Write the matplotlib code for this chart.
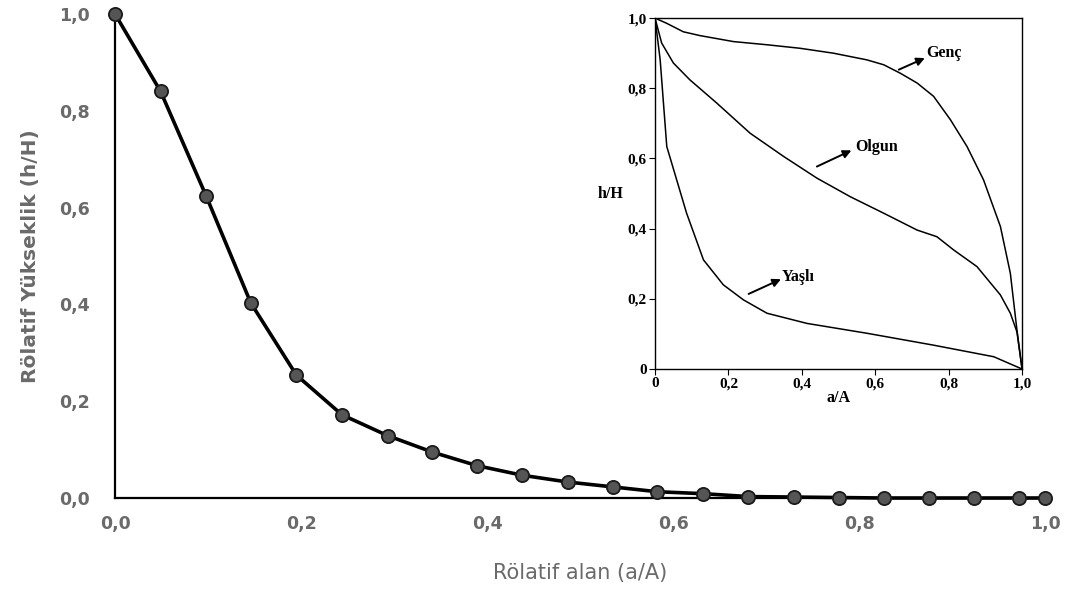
import matplotlib
matplotlib.use("Agg")
import matplotlib.pyplot as plt

# Main chart data
main_x = [0.0, 0.049, 0.098, 0.146, 0.195, 0.244, 0.293, 0.341, 0.389, 0.438, 0.487,
          0.535, 0.583, 0.632, 0.681, 0.730, 0.778, 0.827, 0.875, 0.924, 0.972, 1.0]
main_y = [1.0, 0.84, 0.624, 0.403, 0.254, 0.172, 0.129, 0.095, 0.067, 0.047, 0.033,
          0.023, 0.013, 0.009, 0.003, 0.002, 0.001, 0.0, 0.0, 0.0, 0.0, 0.0]
main_ticks = [0.0, 0.2, 0.4, 0.6, 0.8, 1.0]
main_ticklabels = ["0,0", "0,2", "0,4", "0,6", "0,8", "1,0"]

# Inset data
genc_x = [0.0, 0.032, 0.077, 0.123, 0.214, 0.305, 0.395, 0.486, 0.577, 0.623, 0.668,
          0.714, 0.759, 0.805, 0.85, 0.895, 0.941, 0.968, 0.986, 1.0]
genc_y = [1.0, 0.985, 0.961, 0.95, 0.933, 0.924, 0.914, 0.900, 0.881, 0.867, 0.843,
          0.815, 0.777, 0.710, 0.634, 0.539, 0.406, 0.273, 0.111, 0.0]
olgun_x = [0.0, 0.018, 0.05, 0.095, 0.168, 0.259, 0.35, 0.441, 0.532, 0.623, 0.714,
           0.768, 0.814, 0.877, 0.941, 0.968, 0.986, 1.0]
olgun_y = [1.0, 0.929, 0.872, 0.824, 0.758, 0.672, 0.606, 0.544, 0.491, 0.444, 0.396,
           0.377, 0.339, 0.292, 0.211, 0.159, 0.106, 0.0]
yasli_x = [0.0, 0.014, 0.032, 0.059, 0.086, 0.132, 0.186, 0.241, 0.305, 0.414, 0.577,
           0.759, 0.923, 1.0]
yasli_y = [1.0, 0.881, 0.634, 0.539, 0.444, 0.311, 0.240, 0.197, 0.159, 0.130, 0.102,
           0.068, 0.035, 0.0]
inset_ticks = [0.0, 0.2, 0.4, 0.6, 0.8, 1.0]
inset_ticklabels = ["0", "0,2", "0,4", "0,6", "0,8", "1,0"]
inset_labels = ["Genç", "Olgun", "Yaşlı"]

grey = "#6a6a6a"

fig = plt.figure(figsize=(10.67, 6.03), dpi=100)
ax = fig.add_axes([0.1078, 0.1741, 0.8716, 0.8027])
ax.plot(main_x, main_y, color="black", lw=2.6, marker="o", markersize=9.5,
        markerfacecolor="#555555", markeredgecolor="#1a1a1a", markeredgewidth=1.3,
        clip_on=False, zorder=3)
ax.set_xlim(0, 1.0)
ax.set_ylim(0, 1.0)
for s in ["top", "right"]:
    ax.spines[s].set_visible(False)
for s in ["left", "bottom"]:
    ax.spines[s].set_linewidth(1.6)
ax.set_xticks(main_ticks)
ax.set_xticklabels(main_ticklabels)
ax.set_yticks(main_ticks)
ax.set_yticklabels(main_ticklabels)
ax.tick_params(length=0, labelsize=12.5, labelcolor=grey)
ax.tick_params(axis="x", pad=12)
ax.tick_params(axis="y", pad=18)
for lab in ax.get_xticklabels() + ax.get_yticklabels():
    lab.set_fontweight("bold")
ax.set_xlabel("Rölatif alan (a/A)", fontsize=15, color=grey, labelpad=22)
ax.set_ylabel("Rölatif Yükseklik (h/H)", fontsize=14.5, color=grey,
              fontweight="bold", labelpad=14)

# Inset
ia = fig.add_axes([0.6139, 0.388, 0.344, 0.582])
serif = "Liberation Serif"
ia.plot(genc_x, genc_y, color="black", lw=1.1)
ia.plot(olgun_x, olgun_y, color="black", lw=1.1)
ia.plot(yasli_x, yasli_y, color="black", lw=1.1)
ia.set_xlim(0, 1)
ia.set_ylim(0, 1)
ia.set_xticks(inset_ticks)
ia.set_xticklabels(inset_ticklabels)
ia.set_yticks(inset_ticks)
ia.set_yticklabels(inset_ticklabels)
ia.tick_params(direction="out", length=4, width=0.8, labelsize=11, pad=2)
for lab in ia.get_xticklabels() + ia.get_yticklabels():
    lab.set_fontfamily(serif)
    lab.set_fontweight("bold")
for s in ia.spines.values():
    s.set_linewidth(1.0)
ia.set_xlabel("a/A", fontsize=11.5, fontfamily=serif, fontweight="bold", labelpad=0)
ia.set_ylabel("h/H", fontsize=11.5, fontfamily=serif, fontweight="bold",
              rotation=0, labelpad=12, va="center")

ann = [((0.664, 0.853), (0.735, 0.886), (0.738, 0.90)),
       ((0.441, 0.577), (0.535, 0.623), (0.545, 0.632)),
       ((0.255, 0.214), (0.343, 0.256), (0.345, 0.262))]
for name, (start, end, txt) in zip(inset_labels, ann):
    ia.annotate("", xy=end, xytext=start,
                arrowprops=dict(arrowstyle="-|>", color="black", lw=1.4,
                                mutation_scale=12, shrinkA=0, shrinkB=0))
    ia.text(txt[0], txt[1], name, fontsize=11.5, fontfamily=serif,
            fontweight="bold", ha="left", va="center")

fig.savefig("out.png", dpi=100, facecolor="white")
